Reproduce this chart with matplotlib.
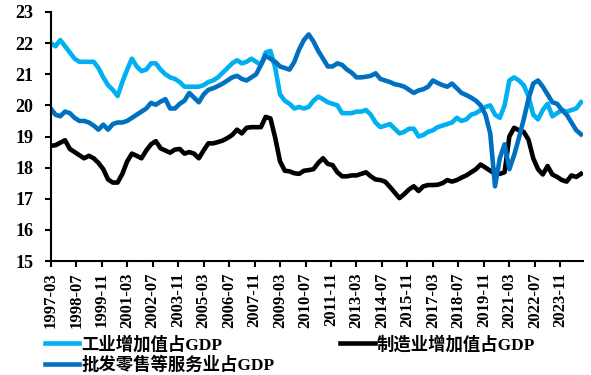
"""
Share of industry, manufacturing and wholesale/retail services in GDP (%)
quarterly values, 1997-03 to 2024-12
"""
import matplotlib
matplotlib.use('Agg')
import matplotlib.pyplot as plt
import numpy as np

# Quarterly values, one row per year (1997 ... 2024)
industry = [22.0, 21.9, 22.1, 21.9,
            21.7, 21.5, 21.4, 21.4,
            21.4, 21.4, 21.2, 20.9,
            20.65, 20.5, 20.3, 20.75,
            21.15, 21.5, 21.25, 21.1,
            21.15, 21.35, 21.35, 21.15,
            21.0, 20.9, 20.85, 20.75,
            20.6, 20.6, 20.6, 20.6,
            20.65, 20.75, 20.8, 20.9,
            21.05, 21.2, 21.35, 21.45,
            21.35, 21.4, 21.5, 21.4,
            21.3, 21.7, 21.75, 21.2,
            20.35, 20.15, 20.05, 19.9,
            19.95, 19.9, 19.95, 20.15,
            20.28, 20.2, 20.1, 20.05,
            20.0, 19.75, 19.75, 19.75,
            19.8, 19.8, 19.85, 19.7,
            19.45, 19.3, 19.35, 19.4,
            19.25, 19.1, 19.15, 19.25,
            19.25, 19.0, 19.05, 19.15,
            19.2, 19.3, 19.35, 19.4,
            19.45, 19.6, 19.5, 19.55,
            19.7, 19.75, 19.85, 19.95,
            20.0, 19.7, 19.6, 20.0,
            20.8, 20.9, 20.8, 20.65,
            20.3, 19.7, 19.55, 19.85,
            20.05, 19.65, 19.75, 19.85,
            19.8, 19.85, 19.9, 20.1]

manufacturing = [18.7, 18.72, 18.8, 18.88,
                 18.6, 18.5, 18.4, 18.3,
                 18.38, 18.3, 18.15, 17.95,
                 17.62, 17.52, 17.52, 17.8,
                 18.2, 18.45, 18.38, 18.3,
                 18.55, 18.75, 18.85, 18.62,
                 18.55, 18.48, 18.58, 18.6,
                 18.45, 18.5, 18.45, 18.3,
                 18.55, 18.78, 18.78, 18.82,
                 18.87, 18.95, 19.05, 19.22,
                 19.1, 19.28, 19.3, 19.3,
                 19.3, 19.63, 19.58, 18.95,
                 18.2, 17.9, 17.88, 17.82,
                 17.8, 17.9, 17.92, 17.95,
                 18.15, 18.3, 18.12, 18.08,
                 17.85, 17.72, 17.72, 17.75,
                 17.75, 17.8, 17.85, 17.72,
                 17.62, 17.6, 17.55, 17.38,
                 17.2, 17.02, 17.15, 17.3,
                 17.4, 17.25, 17.4, 17.44,
                 17.44, 17.45, 17.5, 17.6,
                 17.55, 17.6, 17.68, 17.75,
                 17.85, 17.95, 18.1, 18.0,
                 17.9, 17.8, 17.8, 17.85,
                 19.0, 19.28, 19.2, 19.15,
                 18.9, 18.3, 17.95, 17.78,
                 18.05, 17.78, 17.7, 17.6,
                 17.55, 17.75, 17.7, 17.8]

services = [19.9, 19.7, 19.65, 19.8,
            19.75, 19.6, 19.5, 19.5,
            19.45, 19.35, 19.22, 19.38,
            19.22, 19.4, 19.45, 19.45,
            19.5, 19.6, 19.7, 19.8,
            19.9, 20.08, 20.02, 20.12,
            20.2, 19.9, 19.9, 20.05,
            20.15, 20.4, 20.25, 20.1,
            20.35, 20.5, 20.55, 20.62,
            20.7, 20.8, 20.9, 20.95,
            20.85, 20.8, 20.9, 21.0,
            21.3, 21.6, 21.5, 21.4,
            21.25, 21.2, 21.15, 21.4,
            21.8, 22.1, 22.28, 22.05,
            21.75, 21.5, 21.25, 21.25,
            21.35, 21.3, 21.15, 21.05,
            20.9, 20.9, 20.92, 20.95,
            21.03, 20.85, 20.8, 20.75,
            20.68, 20.65, 20.6, 20.5,
            20.4, 20.48, 20.52, 20.6,
            20.8, 20.72, 20.65, 20.6,
            20.7, 20.55, 20.4, 20.33,
            20.25, 20.15, 20.0, 19.7,
            19.1, 17.4, 18.3, 18.75,
            17.95, 18.4, 18.95, 19.55,
            20.2, 20.7, 20.8, 20.6,
            20.35, 20.1, 20.05, 19.85,
            19.7, 19.45, 19.2, 19.07]

tick_labels = ['1997-03', '1998-07', '1999-11', '2001-03', '2002-07',
               '2003-11', '2005-03', '2006-07', '2007-11', '2009-03',
               '2010-07', '2011-11', '2013-03', '2014-07', '2015-11',
               '2017-03', '2018-07', '2019-11', '2021-03', '2022-07',
               '2023-11']

names = ['工业增加值占GDP', '制造业增加值占GDP', '批发零售等服务业占GDP']
colors = ['#00B0F0', '#000000', '#0070C0']

# months since 1997-03
x = np.arange(len(industry)) * 3

serif = ['Liberation Serif', 'Noto Sans CJK SC']
plt.rcParams['font.family'] = serif
plt.rcParams['font.weight'] = 'bold'

fig = plt.figure(figsize=(5.91, 3.75), dpi=100)
ax = fig.add_axes([0.0858, 0.304, 0.9, 0.664])

l1, = ax.plot(x, industry, color=colors[0], lw=3.3, solid_joinstyle='round')
l2, = ax.plot(x, manufacturing, color=colors[1], lw=3.3, solid_joinstyle='round')
l3, = ax.plot(x, services, color=colors[2], lw=3.3, solid_joinstyle='round')

ax.set_xlim(0, 334)
ax.set_ylim(15, 23)
ax.set_yticks(range(15, 24))
ax.set_xticks(np.arange(len(tick_labels)) * 16)
ax.set_xticklabels(tick_labels, rotation=90)
for s in ['top', 'right']:
    ax.spines[s].set_visible(False)
for s in ['left', 'bottom']:
    ax.spines[s].set_linewidth(1.5)
ax.tick_params(axis='both', direction='out', length=4.5, width=1.5)
ax.tick_params(axis='x', labelsize=12, pad=3.5)
ax.tick_params(axis='y', labelsize=13, pad=8)
for lab in ax.get_xticklabels() + ax.get_yticklabels():
    lab.set_fontweight('bold')

# row-wise legend in two columns
fig.legend([l1, l3, l2], [names[0], names[2], names[1]], ncol=2,
           loc='upper left', bbox_to_anchor=(0.061, 0.128),
           frameon=False, handlelength=2.0, handletextpad=0.1,
           columnspacing=3.8, labelspacing=0.2, borderpad=0,
           prop={'family': serif, 'weight': 'bold', 'size': 12.5})

plt.savefig('out.png', dpi=100)
